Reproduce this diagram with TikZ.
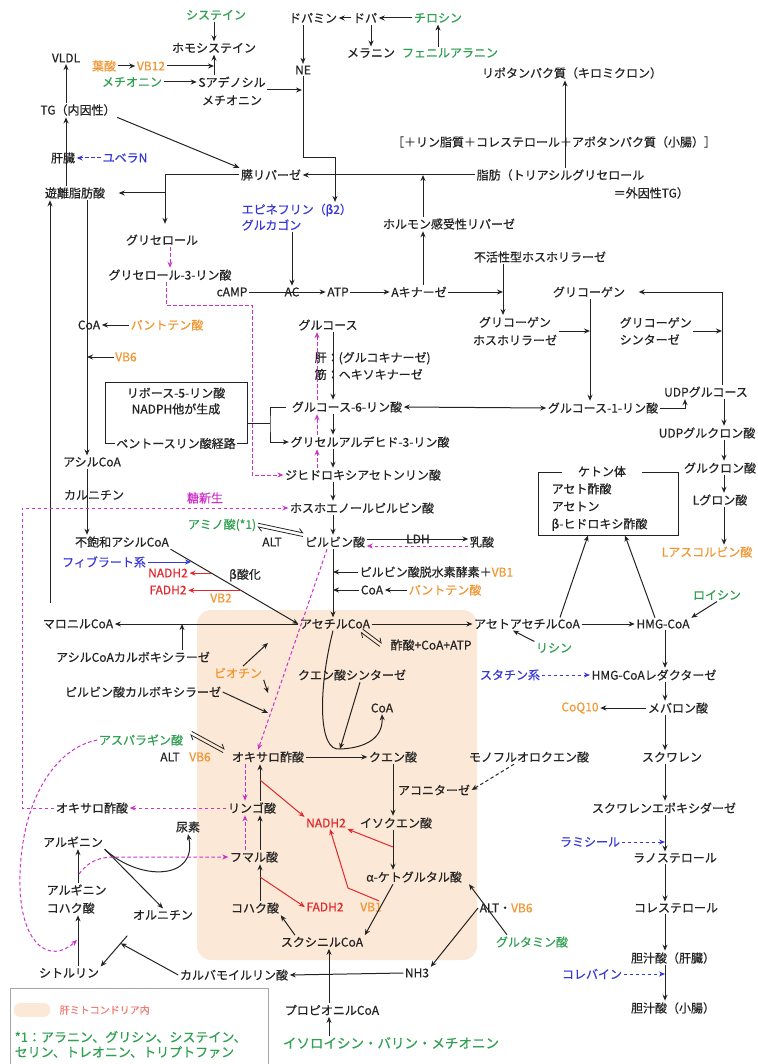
\documentclass[tikz,border=0pt]{standalone}
\usepackage{fontspec}
\setmainfont{Noto Sans CJK JP}[FakeBold=0.6]
\usetikzlibrary{arrows.meta,calc}

\definecolor{ink}{RGB}{35,35,35}
\definecolor{jgreen}{RGB}{46,160,80}
\definecolor{jorange}{RGB}{240,150,50}
\definecolor{jblue}{RGB}{55,55,215}
\definecolor{jred}{RGB}{225,40,45}
\definecolor{jmag}{RGB}{205,50,200}
\definecolor{mito}{RGB}{252,232,214}
\definecolor{jsalmon}{RGB}{240,125,115}

\tikzset{
  every node/.style={inner sep=1.5pt, text=ink, font=\fontsize{12}{17.5}\selectfont},
  gtxt/.style={text=jgreen},
  otxt/.style={text=jorange},
  btxt/.style={text=jblue},
  rtxt/.style={text=jred},
  mtxt/.style={text=jmag},
  plain/.style={draw=ink, line width=1pt},
  arr/.style={->, draw=ink, line width=1pt},
  darr/.style={->, draw=jmag, line width=1pt, dash pattern=on 3.5pt off 2.5pt},
  barr/.style={->, draw=jblue, line width=1pt},
  bdarr/.style={barr, dash pattern=on 3.5pt off 2.5pt},
  rarr/.style={->, draw=jred, line width=1pt},
  kdarr/.style={arr, dash pattern=on 3.5pt off 2.5pt},
  eqf/.style={draw=ink, line width=0.8pt, -{Straight Barb[harpoon,length=4pt,width=7pt]}},
}
% equilibrium pair of harpoons between two points
\newcommand{\eqpair}[2]{%
  \draw[eqf] ($(#1)!1.8pt!90:(#2)$) -- ($(#2)!1.8pt!-90:(#1)$);
  \draw[eqf] ($(#2)!1.8pt!90:(#1)$) -- ($(#1)!1.8pt!-90:(#2)$);}

\begin{document}
\begin{tikzpicture}[x=1pt, y=-1pt, >={Stealth[length=6pt,width=5pt]}]
\useasboundingbox (0,0) rectangle (757,1064);

% mitochondria (liver)
\node[fill=mito, rounded corners=14pt, minimum width=280, minimum height=350] (mito) at (337,785) {};

% ---- nodes: top
\node[gtxt] (cys) at (216,15) {システイン};
\node (hcy) at (214,48) {ホモシステイン};
\node (vldl) at (66,58) {VLDL};
\node[otxt] (folate) at (104,66) {葉酸};
\node[otxt] (vb12) at (151,66) {VB12};
\node[gtxt] (met) at (132,82) {メチオニン};
\node[align=center, font=\fontsize{12}{18}\selectfont] (sam) at (232,91) {Sアデノシル\\メチオニン};
\node (dopamine) at (313,18) {ドパミン};
\node (dopa) at (365,18) {ドパ};
\node[gtxt] (tyr) at (438,18) {チロシン};
\node (melanin) at (371,53) {メラニン};
\node[gtxt] (phe) at (450,53) {フェニルアラニン};
\node (ne) at (303,70) {NE};
\node (lipo) at (572,73) {リポタンパク質（キロミクロン）};
\node (bracket) at (554,142) {［＋リン脂質＋コレステロール＋アポタンパク質（小腸）］};
\node (tgin) at (78,110) {TG（内因性）};
\node (liver) at (63,158) {肝臓};
\node[btxt] (yubela) at (125,158) {ユベラN};
\node (plip) at (271,175) {膵リパーゼ};
\node[anchor=west] (fat) at (475,175) {脂肪（トリアシルグリセロール};
\node[anchor=west] (fat2) at (612,193) {＝外因性TG）};
\node (ffa) at (75,193) {遊離脂肪酸};
\node[btxt, anchor=west] (epi) at (240,210) {エピネフリン（β2）};
\node[btxt, anchor=west] (glucagon) at (240,225) {グルカゴン};
\node (hsl) at (449,224) {ホルモン感受性リパーゼ};
\node (glycerol) at (162,240) {グリセロール};
\node (inact) at (540,257) {不活性型ホスホリラーゼ};
\node (g3p) at (170,275) {グリセロール-3-リン酸};
\node (camp) at (232,292) {cAMP};
\node (ac) at (292,292) {AC};
\node (atp) at (338,292) {ATP};
\node (pka) at (419,292) {Aキナーゼ};
\node (glycogen) at (589,292) {グリコーゲン};
\node[align=center, font=\fontsize{12}{18}\selectfont] (gph) at (515,331) {グリコーゲン\\ホスホリラーゼ};
\node[align=left, anchor=west, font=\fontsize{12}{17}\selectfont] (gs) at (618,331) {グリコーゲン\\シンターゼ};
\node (glucose) at (328,325) {グルコース};
\node[otxt] (pant1) at (167,325) {パントテン酸};
\node[otxt] (vb6a) at (126,357) {VB6};
\node[align=left, anchor=west, font=\fontsize{12}{17}\selectfont] (hk) at (313,366) {肝：(グルコキナーゼ)\\筋：ヘキソキナーゼ};

% ---- nodes: middle
\node[draw=ink, line width=1pt, minimum width=142, minimum height=61] (pbox) at (176,412.5) {};
\node (rib) at (176,393) {リボース-5-リン酸};
\node (nadph) at (176,409) {NADPH他が生成};
\node[fill=white, inner sep=1pt] (ppp) at (pbox.south) {ペントースリン酸経路};
\node (udpglc) at (706,392) {UDPグルコース};
\node (g1p) at (603,408) {グルコース-1-リン酸};
\node (g6p) at (347,407) {グルコース-6-リン酸};
\node (udpgla) at (707,433) {UDPグルクロン酸};
\node (gap) at (370,442) {グリセルアルデヒド-3-リン酸};
\node (acylcoa) at (92,462) {アシルCoA};
\node (glca) at (720,468) {グルクロン酸};
\node[draw=ink, line width=1pt, minimum width=140, minimum height=63] (kbox) at (608,503.5) {};
\node[fill=white, inner xsep=16pt] (ktitle) at ([xshift=-6pt]kbox.north) {ケトン体};
\node[anchor=west, align=left, font=\fontsize{12}{17.5}\selectfont] (kbody) at (550,507) {アセト酢酸\\アセトン\\β-ヒドロキシ酢酸};
\node (dhap) at (363,475) {ジヒドロキシアセトンリン酸};
\node (carn) at (94,495) {カルニチン};
\node[mtxt] (gng) at (205,498) {糖新生};
\node (lgul) at (720,500) {Lグロン酸};
\node (pep) at (362,508) {ホスホエノールピルビン酸};
\node[gtxt] (aa) at (222,525) {アミノ酸(*1)};
\node (unsat) at (122,542) {不飽和アシルCoA};
\node (alt1) at (272,542) {ALT};
\node (pyr) at (335,542) {ピルビン酸};
\node (ldh) at (418,539) {LDH};
\node (lac) at (482,542) {乳酸};
\node[otxt] (asc) at (707,552) {Lアスコルビン酸};
\node[btxt] (fib) at (104,562) {フィブラート系};
\node[anchor=west] (pdh) at (358,572) {ピルビン酸脱水素酵素＋\textcolor{jorange}{VB1}};
\node[rtxt] (nadha) at (168,573) {NADH2};
\node (betaox) at (245,575) {β酸化};
\node[rtxt] (fadha) at (168,590) {FADH2};
\node (coab) at (372,590) {CoA};
\node[otxt] (pant2) at (445,590) {パントテン酸};
\node[otxt] (vb2) at (221,598) {VB2};
\node[gtxt] (leu) at (717,595) {ロイシン};
\node (malcoa) at (78,624) {マロニルCoA};
\node (accoa) at (335,624) {アセチルCoA};
\node (acac) at (527,624) {アセトアセチルCoA};
\node (hmg) at (663,624) {HMG-CoA};
\node (acetate) at (431,645) {酢酸+CoA+ATP};
\node[gtxt] (lys) at (554,648) {リシン};
\node (accarb) at (133,657) {アシルCoAカルボキシラーゼ};
\node[otxt] (biotin) at (238,673) {ビオチン};
\node (cs) at (352,675) {クエン酸シンターゼ};
\node[btxt] (statin) at (510,675) {スタチン系};
\node (hmgr) at (654,675) {HMG-CoAレダクターゼ};
\node (pcarb) at (143,692) {ピルビン酸カルボキシラーゼ};
\node (coac) at (382,708) {CoA};
\node[otxt] (coq) at (580,708) {CoQ10};
\node (mev) at (678,708) {メバロン酸};

% ---- nodes: lower
\node[gtxt] (asp) at (141,740) {アスパラギン酸};
\node (alt2) at (170,757) {ALT};
\node[otxt] (vb6b) at (200,757) {VB6};
\node (oaa) at (268,757) {オキサロ酢酸};
\node (cit) at (393,757) {クエン酸};
\node (mfc) at (529,757) {モノフルオロクエン酸};
\node (sqn) at (672,757) {スクワレン};
\node (aco) at (434,790) {アコニターゼ};
\node (oaa2) at (92,808) {オキサロ酢酸};
\node (mal) at (252,808) {リンゴ酸};
\node (sqe) at (664,808) {スクワレンエポキシダーゼ};
\node[rtxt] (nadhb) at (326,823) {NADH2};
\node (icit) at (396,823) {イソクエン酸};
\node (urea) at (188,827) {尿素};
\node (arg) at (73,842) {アルギニン};
\node[btxt] (ramisil) at (590,842) {ラミシール};
\node (fum) at (254,857) {フマル酸};
\node (lano) at (675,858) {ラノステロール};
\node (akg) at (414,877) {α-ケトグルタル酸};
\node[align=left, anchor=west, font=\fontsize{12}{18}\selectfont] (argsuc) at (45,899) {アルギニン\\コハク酸};
\node[rtxt] (fadhb) at (325,907) {FADH2};
\node[otxt] (vb1b) at (371,907) {VB1};
\node (suc) at (255,908) {コハク酸};
\node[anchor=west] (altvb) at (478,908) {ALT・\textcolor{jorange}{VB6}};
\node (chol) at (676,908) {コレステロール};
\node (orn) at (163,915) {オルニチン};
\node (succoa) at (322,942) {スクシニルCoA};
\node[gtxt] (glu) at (532,942) {グルタミン酸};
\node (ba1) at (673,958) {胆汁酸（肝臓）};
\node (cit2) at (69,973) {シトルリン};
\node (nh3) at (417,973) {NH3};
\node (cp) at (234,975) {カルバモイルリン酸};
\node[btxt] (colebine) at (592,974) {コレバイン};
\node (ba2) at (673,1008) {胆汁酸（小腸）};
\node (prop) at (332,1010) {プロピオニルCoA};
\node[gtxt, font=\fontsize{13.5}{16}\selectfont] (ile) at (391,1043) {イソロイシン・バリン・メチオニン};

% ---- legend
\node[draw=gray!70, line width=1pt, minimum width=258, minimum height=80, anchor=north west] (legend) at (10,988) {};
\node[fill=mito, rounded corners=6pt, minimum width=36, minimum height=14] (swatch) at (32,1010) {};
\node[text=jsalmon, font=\fontsize{10}{12}\selectfont, anchor=west] (legmito) at (58,1010) {肝ミトコンドリア内};
\node[gtxt, anchor=west, align=left, font=\fontsize{13}{15}\selectfont] (legnote) at (13,1044.5) {*1：アラニン、グリシン、システイン、\\セリン、トレオニン、トリプトファン};

% ---- connectors: amino acids, hormones
\draw[arr] (cys.south -| hcy) -- (hcy.north);
\draw[arr] (sam.north -| hcy) -- (hcy.south);
\draw[arr] (folate) -- (vb12);
\draw[arr] (vb12.east) -- (vb12.east -| hcy);
\draw[arr] (met.east) -- (sam.west |- met);
\coordinate (nex) at (302,90);
\draw[arr] (sam.east |- nex) -- (nex);
\draw[arr] (dopa.west) -- (dopamine.east);
\draw[arr] (tyr.west) -- (dopa.east);
\draw[arr] (melanin.north |- dopa.south) -- (melanin.north);
\draw[arr] (phe.north -| tyr) -- (tyr.south);
\draw[arr] (dopamine.south -| ne) -- (ne.north);
\coordinate (nebend) at (335,158);
\draw[arr] (ne.south) |- (nebend) -- (nebend |- epi.north);

% ---- lipids
\draw[arr] (tgin.south east) -- (plip.north west);
\draw[arr] (fat.west) -- (plip.east);
\coordinate (hslx) at (423,175);
\draw[arr] (hsl.north -| hslx) -- (hslx);
\coordinate (lipx) at (565,0);
\draw[arr] (fat.north -| lipx) -- (lipo.south -| lipx);
\draw[arr] (tgin.north -| vldl) -- (vldl.south);
\draw[bdarr] (yubela.west) -- (liver.east);
\draw[arr] (ffa.north -| vldl) -- (tgin.south -| vldl);
\coordinate (plx) at (165,175);
\draw[arr, shorten >=9pt] (plip.west) -- (plx) -- (plx |- glycerol.north);
\draw[arr, shorten >=12pt] (plx |- ffa) -- (ffa.east);
\draw[darr] (glycerol.south -| g3p) -- (g3p.north);
\coordinate (gm) at (252,305);
\draw[darr] ([xshift=-4pt]g3p.south) |- (gm) |- (dhap.west);

% ---- cAMP cascade, glycogen
\draw[arr] (glucagon.south -| ac) -- (ac.north);
\draw[arr] (camp.east) -- (atp.west);
\draw[arr] (atp.east) -- (pka.west);
\draw[arr] (pka.north -| hslx) -- (hsl.south -| hslx);
\coordinate (pkx) at (503,292);
\draw[arr] (pka.east) -- (pkx);
\draw[arr] (inact.south -| pkx) -- (gph.north -| pkx);
\coordinate (gcx) at (590,0);
\draw[arr] (gph.east) -- (gph.east -| gcx);
\draw[arr] (glycogen.south -| gcx) -- (g1p.north -| gcx);
\coordinate (udx) at (722,0);
\draw[arr] (gs.east) -- (gs.east -| udx);
\draw[arr, shorten >=12pt] (udpglc.north -| udx) |- (glycogen.east);
\draw[arr] (g1p.east) -| ([xshift=-21pt]udpglc.south);
\draw[<->, draw=ink, line width=1pt] (g6p.east) -- (g1p.west);
\coordinate (rx) at (724,0);
\draw[arr] (udpglc.south -| rx) -- (udpgla.north -| rx);
\draw[arr] (udpgla.south -| rx) -- (glca.north -| rx);
\draw[arr] (glca.south -| rx) -- (lgul.north -| rx);
\draw[arr] (lgul.south -| rx) -- (asc.north -| rx);
\draw[arr] ([xshift=33pt]acac.north) -- ([xshift=-20pt]kbox.south);
\draw[arr] ([xshift=-8pt]hmg.north) -- ([xshift=17pt]kbox.south);

% ---- glycolysis
\coordinate (gx) at (333,0);
\draw[arr] (glucose.south -| gx) -- (g6p.north -| gx);
\draw[arr] (g6p.south -| gx) -- (gap.north -| gx);
\draw[arr] (gap.south -| gx) -- (dhap.north -| gx);
\draw[arr] (dhap.south -| gx) -- (pep.north -| gx);
\draw[arr] (pep.south -| gx) -- (pyr.north -| gx);
\coordinate (mx) at (317,0);
\draw[darr] (dhap.north -| mx) -- (gap.south -| mx);
\draw[darr] (gap.north -| mx) -- (g6p.south -| mx);
\draw[darr] (g6p.north -| mx) -- (glucose.south -| mx);
\coordinate (pb) at (270,423);
\draw[plain] (pbox.east |- pb) -- (pb);
\draw[arr] ([xshift=-4pt]g6p.west) -| (pb) |- (gap.west);

% ---- fatty acids
\coordinate (vx) at (87,0);
\draw[arr] (ffa.south -| vx) -- (acylcoa.north -| vx);
\node (coa1) at (89,325) {CoA};
\draw[arr] (pant1.west) -- (coa1.east);
\draw[arr] (vb6a.west) -- (vb6a.west -| vx);
\draw[arr] (acylcoa.south -| vx) -- (unsat.north -| vx);
\coordinate (fa0) at (50,603);
\draw[arr] (fa0) -- (ffa.south -| fa0);
\draw[arr] (unsat.south east) -- (accoa.west);
\coordinate (bo1) at ($(unsat.south east)!0.16!(accoa.west)$);
\coordinate (bo2) at ($(unsat.south east)!0.32!(accoa.west)$);
\coordinate (bo3) at ($(unsat.south east)!0.55!(accoa.west)$);
\draw[barr] (fib.east) -- (fib.east -| bo1);
\draw[rarr] (bo2) -- (nadha.east |- bo2);
\draw[rarr] (bo3) -- (fadha.east |- bo3);
\draw[arr] (accoa.west) -- (malcoa.east);
\coordinate (acx) at (182,624);
\draw[arr] (accarb.north -| acx) -- (acx);
\coordinate (bt1) at (268,643);
\coordinate (bt2) at (268,693);
\coordinate (bt3) at (268,713);
\draw[arr] ([xshift=5pt]biotin.north) -- (bt1);
\draw[arr] (biotin.south east) -- (bt2);
\draw[arr] (pcarb.east) -- (bt3);

% ---- pyruvate, acetyl-CoA
\draw[arr] (pyr.south -| gx) -- (accoa.north -| gx);
\draw[arr] (pdh.west) -- (pdh.west -| gx);
\draw[arr] (coab.west) -- (coab.west -| gx);
\draw[arr] (pant2.west) -- (coab.east);
\draw[arr] ([yshift=3pt]pyr.east) -- ([yshift=3pt]pyr.east -| lac.west);
\draw[darr] ([yshift=-4pt]lac.west) -- ([yshift=-4pt]lac.west -| pyr.east);
\eqpair{aa.east}{pyr.north west}
\eqpair{[xshift=-10pt]accoa.south east}{[xshift=-8pt]acetate.west}
\coordinate (ea3) at (191,733);
\coordinate (ea4) at (224,751);
\eqpair{ea3}{ea4}
\draw[darr] ([xshift=-8pt]pyr.south) -- ([xshift=-10pt]oaa.north);
\draw[arr] (accoa.east) -- (acac.west);
\draw[arr] (acac.east) -- (hmg.west);
\draw[arr] (leu.south) -- (hmg.north east);
\draw[arr] (lys.north west) -- ([xshift=-14pt]acac.south);

% ---- cholesterol
\coordinate (hx) at (665,0);
\draw[arr] (hmg.south -| hx) -- (hmgr.north -| hx);
\draw[bdarr] (statin.east) -- (hmgr.west);
\draw[arr] (hmgr.south -| hx) -- (mev.north -| hx);
\draw[arr] (mev.west) -- (coq.east);
\draw[arr] (mev.south -| hx) -- (sqn.north -| hx);
\draw[arr] (sqn.south -| hx) -- (sqe.north -| hx);
\draw[arr] (sqe.south -| hx) -- (lano.north -| hx);
\draw[bdarr] (ramisil.east) -- (ramisil.east -| hx);
\draw[arr] (lano.south -| hx) -- (chol.north -| hx);
\draw[arr] (chol.south -| hx) -- (ba1.north -| hx);
\draw[arr] (ba1.south -| hx) -- (ba2.north -| hx);
\draw[bdarr] (colebine.east) -- (colebine.east -| hx);

% ---- TCA cycle
\coordinate (csb) at (340,749);
\draw[arr] ([xshift=-2pt]accoa.south) .. controls (318,690) and (318,752) .. (csb) .. controls (366,748) and (383,738) .. (coac.south);
\draw[arr] ([xshift=8pt]cs.south) -- (csb);
\draw[arr] (oaa.east) -- (cit.west);
\draw[kdarr] ([xshift=-15pt]mfc.south) -- (aco.east);
\draw[arr] (cit.south) -- (icit.north -| cit);
\draw[arr] (icit.south -| cit) -- (akg.north -| cit);
\coordinate (r1) at (393,847);
\draw[rarr] (r1) -- (nadhb.south east);
\coordinate (r2) at (348,888);
\draw[rarr] ([xshift=8pt]vb1b.north) -- (r2) -- ([xshift=4pt]nadhb.south);
\draw[arr] ([xshift=-21pt]akg.south) -- (succoa.north east);
\draw[arr] ([xshift=-27pt]succoa.north) -- (suc.south east);
\coordinate (tx) at (260,0);
\draw[arr] (suc.north -| tx) -- (fum.south -| tx);
\coordinate (r3) at (260,877);
\draw[rarr] (r3) -- (fadhb.west);
\draw[arr] (fum.north -| tx) -- (mal.south -| tx);
\draw[arr] (mal.north -| tx) -- (oaa.south -| tx);
\coordinate (r4) at (260,780);
\draw[rarr] (r4) -- (nadhb.north west);
\coordinate (mx2) at (245,0);
\draw[darr] (oaa.south -| mx2) -- (mal.north -| mx2);
\draw[darr] (fum.north -| mx2) -- (mal.south -| mx2);
\draw[darr] (mal.west) -- (oaa2.east);
\coordinate (gl) at (22,508);
\draw[darr] (oaa2.west) -| (gl) -- (pep.west);
\draw[arr] ([xshift=-25pt]glu.north) -- ([xshift=55pt]akg.south);
\draw[arr] (altvb.west) -- (nh3.north east);
\draw[arr] (nh3.west) -- (cp.east);
\coordinate (px) at (329,0);
\draw[arr] (prop.north -| px) -- (succoa.south -| px);
\draw[arr] (ile.north -| px) -- (prop.south -| px);

% ---- urea cycle
\draw[arr] (arg.south east) .. controls (140,882) and (198,880) .. (urea.south);
\draw[arr] (arg.south east) -- (orn.north);
\coordinate (ax) at (78,0);
\draw[arr] (argsuc.north -| ax) -- (arg.south -| ax);
\draw[arr] (cit2.north -| ax) -- (argsuc.south -| ax);
\coordinate (m5) at (79,874);
\draw[darr] (m5) .. controls (88,862) and (98,857) .. (115,857) -- (fum.west);
\coordinate (o1) at ([xshift=-4pt,yshift=-14pt]orn.south west);
\draw[arr] (o1) -- (cit2.north east);
\draw[arr] (cp.west) -- ($(o1)!0.25!(cit2.north east)$);
\draw[darr] (asp.west) .. controls (55,748) and (22,800) .. (20,875) .. controls (18,945) and (50,965) .. (77,940);
\end{tikzpicture}
\end{document}
